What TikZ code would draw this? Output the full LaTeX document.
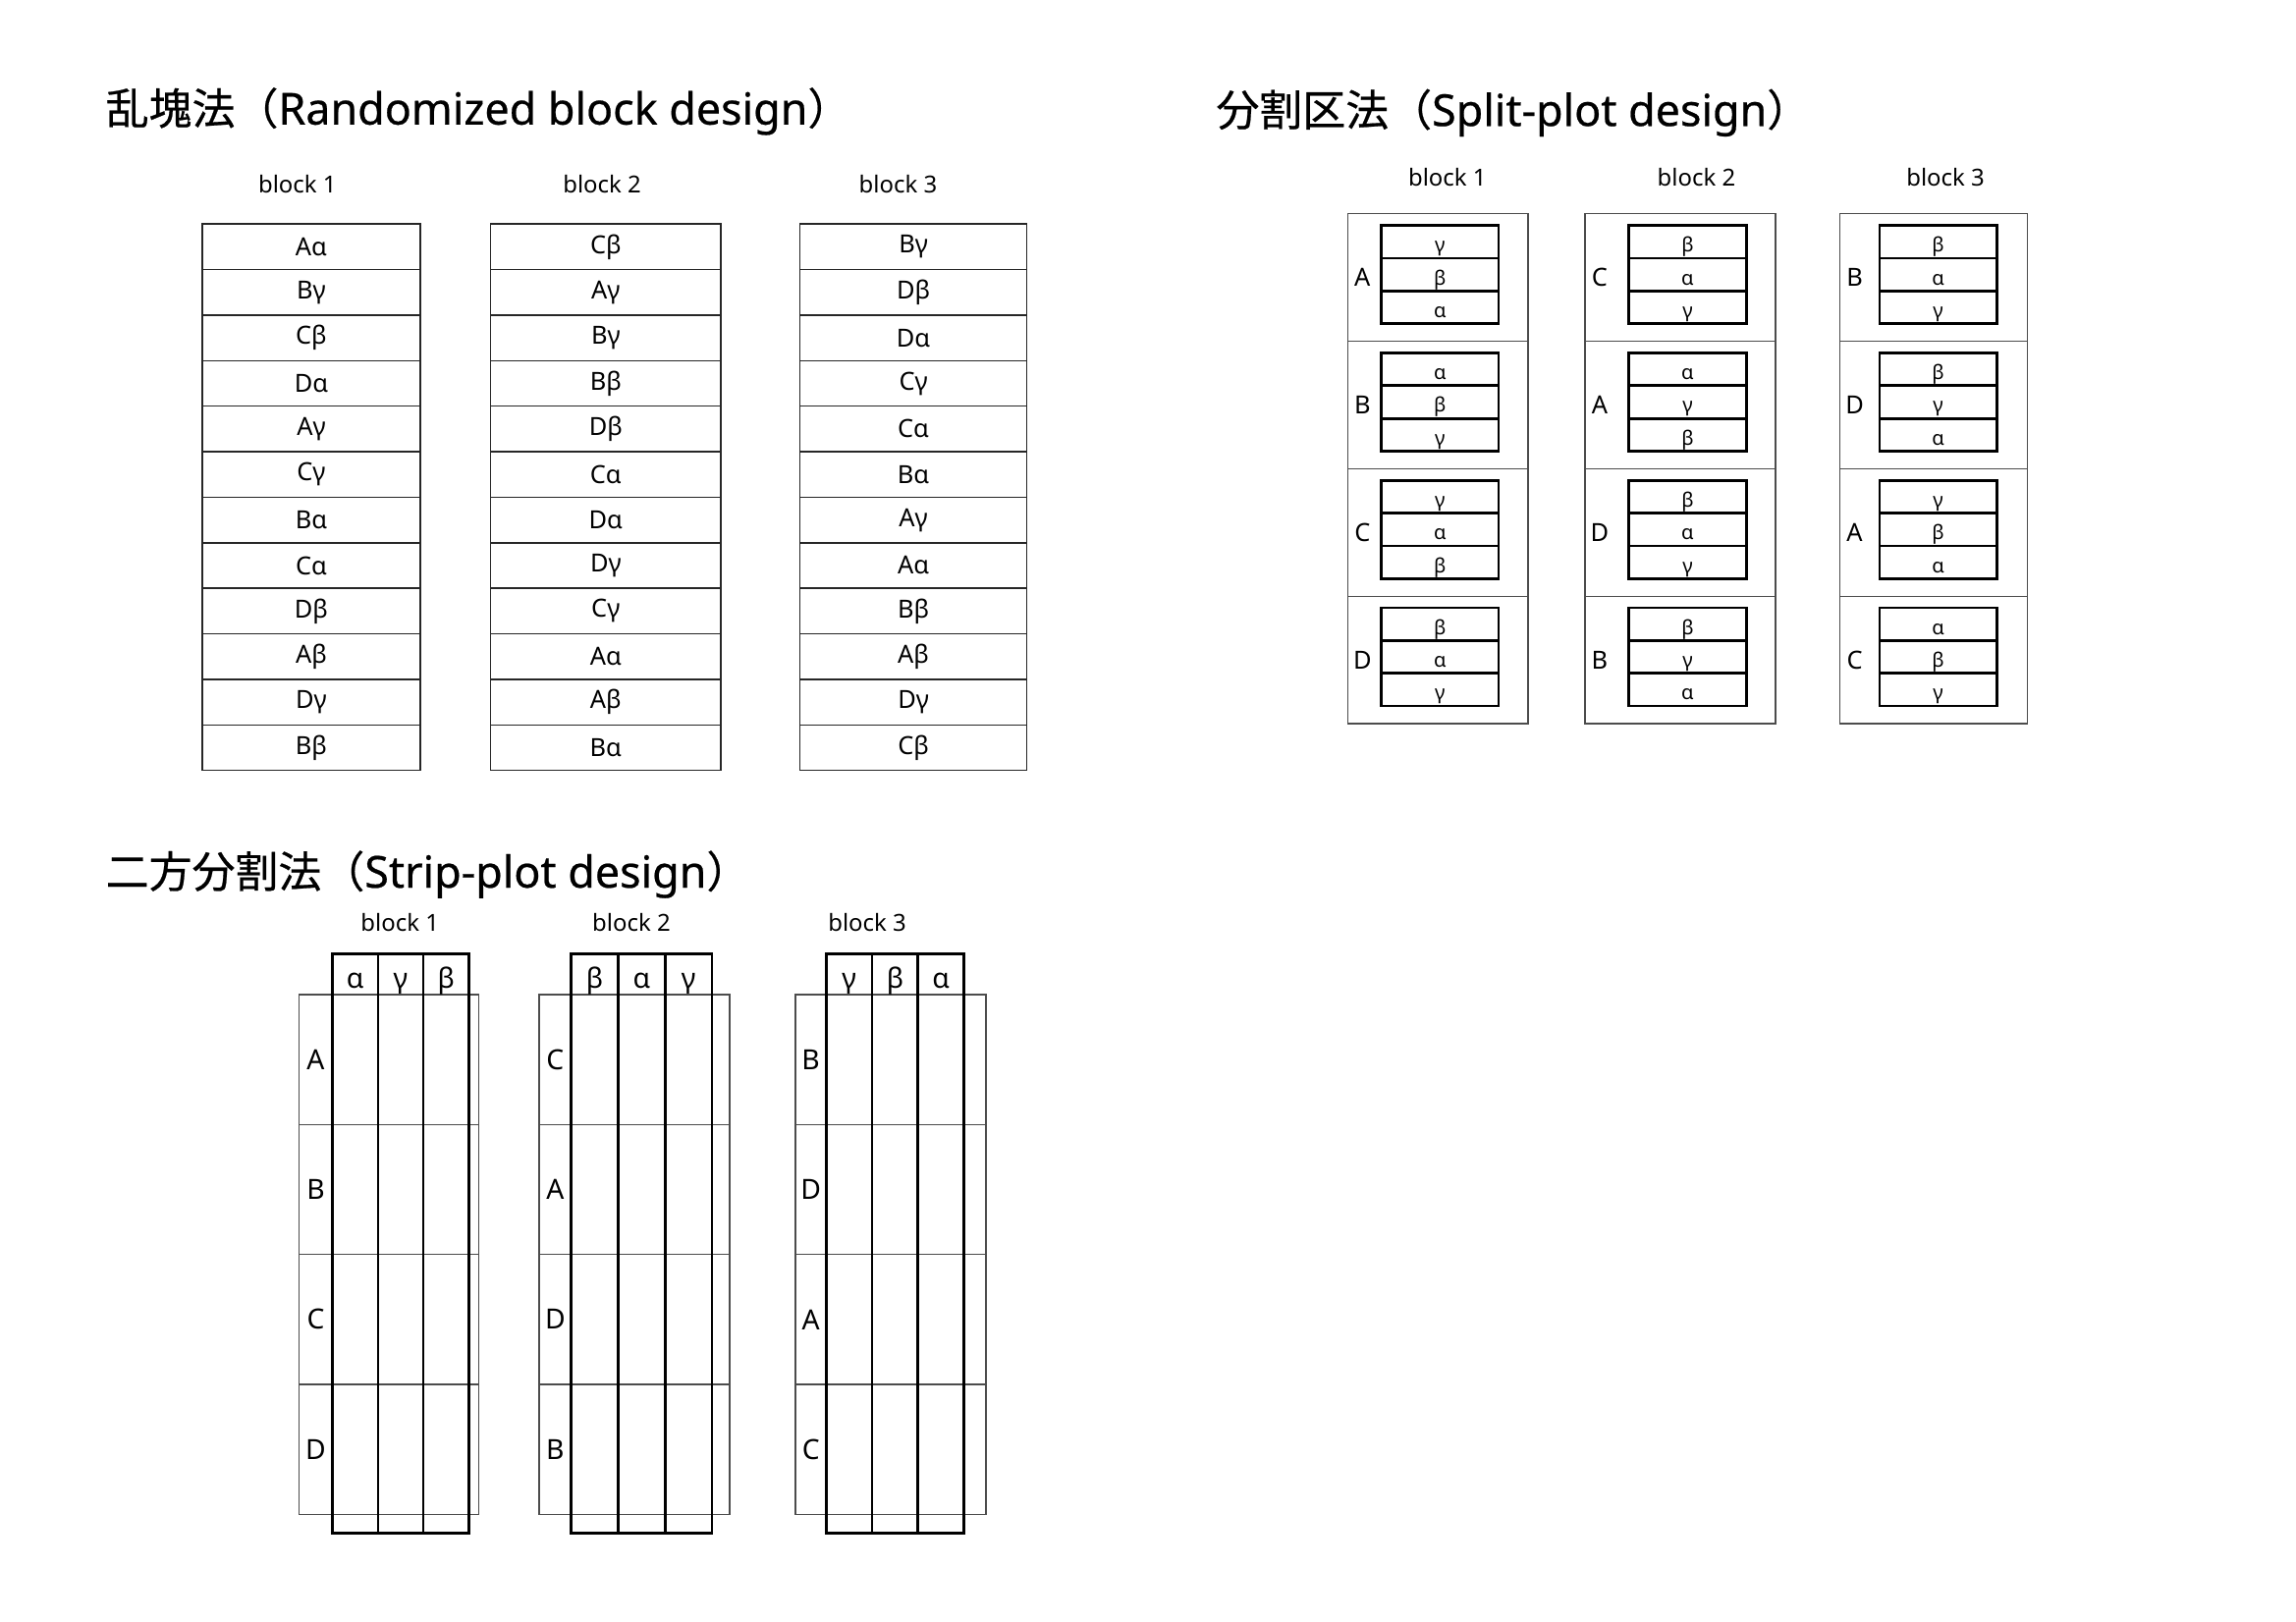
\documentclass[tikz,border=0pt]{standalone}
\usepackage{fontspec}
\setmainfont{Noto Sans}
\newfontfamily\jpfont[FakeBold=0.5]{Noto Sans CJK JP}
\newfontfamily\ttlatin[FakeBold=0.5]{Noto Sans}
\newcommand\ttlat[1]{{\ttlatin\fontsize{29.8}{32}\selectfont #1}}
\begin{document}
\begin{tikzpicture}[x=0.9915pt,y=-0.9915pt,
  lnthin/.style={draw=black!70, line width=0.8pt},
  lnthick/.style={draw=black, line width=1.8pt},
  ttl/.style={anchor=base west, inner sep=0pt, font=\jpfont\fontsize{29.2}{32}\selectfont},
  blk/.style={inner sep=0pt, font=\fontsize{15.9}{18}\selectfont},
  rbcell/.style={draw=black!85, line width=1pt, inner sep=0pt, minimum height=30.82pt, font=\fontsize{16.9}{20}\selectfont},
  spouter/.style={lnthin, inner sep=0pt, minimum height=86.26pt},
  spinner/.style={lnthick, inner sep=0pt, minimum height=22.14pt},
  sprow/.style={inner sep=0pt, font=\fontsize{16.9}{20}\selectfont},
  spsub/.style={inner sep=0pt, anchor=base, font=\fontsize{13.4}{16}\selectfont},
  strow/.style={lnthin, inner sep=0pt, minimum height=88pt},
  stcol/.style={lnthick, inner sep=0pt, minimum height=392.6pt},
  stlab/.style={inner sep=0pt, font=\fontsize{18.8}{22}\selectfont},
  sthead/.style={inner sep=0pt, anchor=base, font=\fontsize{18.8}{22}\selectfont},
]
\useasboundingbox (0,0) rectangle (1567.3,1107.4);
% titles
\node[ttl] (t1) at (72,85) {乱塊法（\ttlat{Randomized block design}）};
\node[ttl] (t2) at (830,86) {分割区法（\ttlat{Split-plot design}）};
\node[ttl] (t3) at (72,606) {二方分割法（\ttlat{Strip-plot design}）};

% ---------------- Randomized block design
\node[blk] (rbb1) at (203,126) {block 1};
\node[blk] (rbb2) at (411,126) {block 2};
\node[blk] (rbb3) at (613,126) {block 3};
\foreach \cx/\w/\labs [count=\c] in {
  212.5/147.7/{Aα,Bγ,Cβ,Dα,Aγ,Cγ,Bα,Cα,Dβ,Aβ,Dγ,Bβ},
  413.5/155.7/{Cβ,Aγ,Bγ,Bβ,Dβ,Cα,Dα,Dγ,Cγ,Aα,Aβ,Bα},
  623.5/153.7/{Bγ,Dβ,Dα,Cγ,Cα,Bα,Aγ,Aα,Bβ,Aβ,Dγ,Cβ}}{
  \foreach \t [count=\r] in \labs {
    \node[rbcell, minimum width=\w pt] (rb\c-\r) at (\cx,{153+31.083*(\r-0.5)}) {\t};
  }
}

% ---------------- Split-plot design
\node[blk] (spb1) at (988,121) {block 1};
\node[blk] (spb2) at (1158,121) {block 2};
\node[blk] (spb3) at (1328,121) {block 3};
\foreach \ox/\ow/\ix/\iw/\lx/\rows [count=\b] in {
  981.5/122/983/79.3/930/{A/γ/β/α, B/α/β/γ, C/γ/α/β, D/β/α/γ},
  1147/128.9/1152/79.3/1092/{C/β/α/γ, A/α/γ/β, D/β/α/γ, B/β/γ/α},
  1320/126.9/1323/79.3/1266/{B/β/α/γ, D/β/γ/α, A/γ/β/α, C/α/β/γ}}{
  \foreach \L/\p/\q/\s [count=\r] in \rows {
    \node[spouter, minimum width=\ow pt] (sp\b-\r) at (\ox,{146+87*(\r-0.5)}) {};
    \node[sprow] (spl\b-\r) at (\lx,{146+87*(\r-0.5)}) {\L};
    \foreach \t [count=\k] in {\p,\q,\s} {
      \node[spinner, minimum width=\iw pt] (spc\b-\r-\k) at (\ix,{146+87*(\r-0.5)-2+22.33*(\k-2)}) {};
      \node[spsub] (spt\b-\r-\k) at (\ix,{146+87*(\r-0.5)-2+22.33*(\k-2)+7}) {\t};
    }
  }
}

% ---------------- Strip-plot design
\node[blk] (stb1) at (273,630) {block 1};
\node[blk] (stb2) at (431,630) {block 2};
\node[blk] (stb3) at (592,630) {block 3};
\foreach \rx/\rw/\ca/\cw/\cwpt/\lx/\heads/\rowsl [count=\b] in {
  265.5/122/227/31/30.74/215.5/{α,γ,β}/{A,B,C,D},
  433/128.9/390/32/31.73/379/{β,α,γ}/{C,A,D,B},
  608/128.9/564/31.33/31.06/553.5/{γ,β,α}/{B,D,A,C}}{
  \foreach \R [count=\r] in \rowsl {
    \node[strow, minimum width=\rw pt] (st\b-r\r) at (\rx,{679+88.75*(\r-0.5)}) {};
    \node[stlab] (stl\b-\r) at (\lx,{679+88.75*(\r-0.5)}) {\R};
  }
  \foreach \h [count=\k] in \heads {
    \node[stcol, minimum width=\cwpt pt] (st\b-c\k) at ({\ca+\cw*(\k-0.5)},849) {};
    \node[sthead] (sth\b-\k) at ({\ca+\cw*(\k-0.5)},675) {\h};
  }
}
\end{tikzpicture}
\end{document}
